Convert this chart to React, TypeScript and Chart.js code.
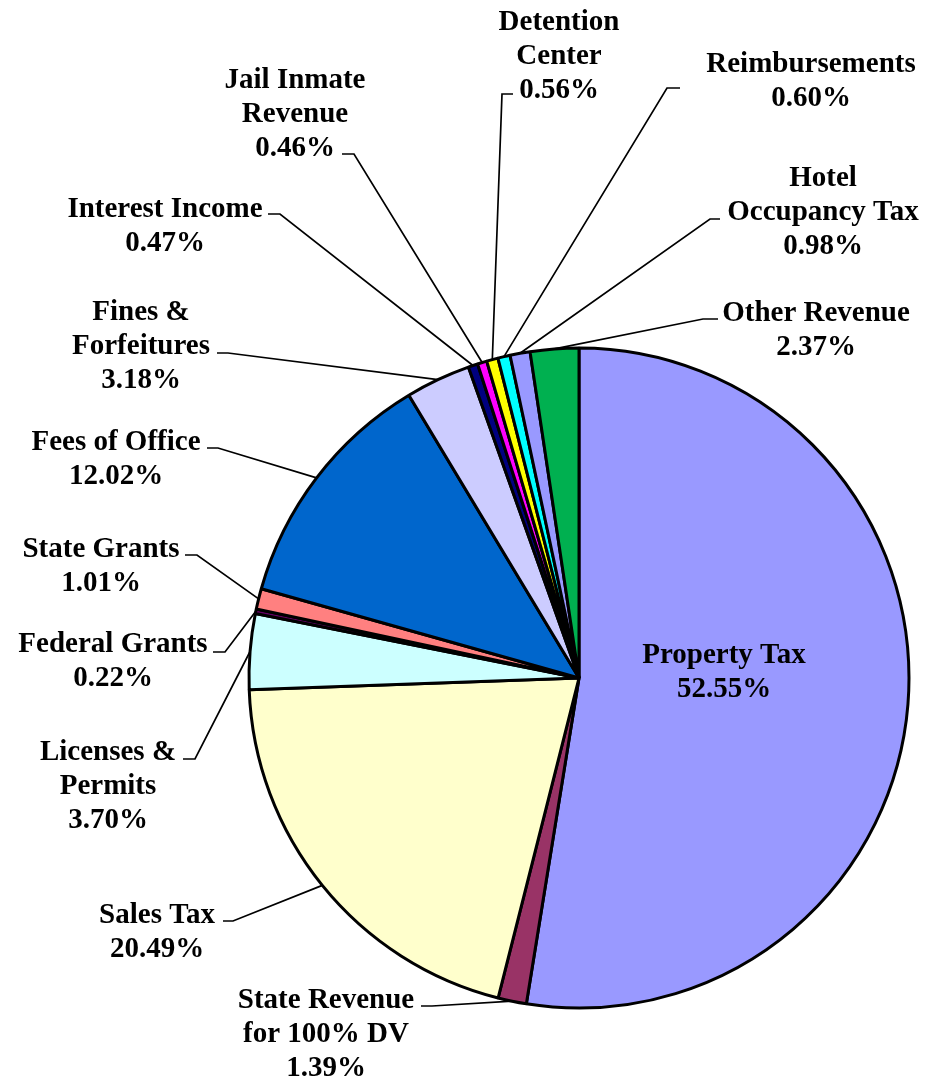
import React, { useEffect, useRef } from "react";
import { Chart, registerables } from "chart.js";

Chart.register(...registerables);

// ---- Data ----
const categories: string[] = [
  "Property Tax",
  "State Revenue\nfor 100% DV",
  "Sales Tax",
  "Licenses &\nPermits",
  "Federal Grants",
  "State Grants",
  "Fees of Office",
  "Fines &\nForfeitures",
  "Interest Income",
  "Jail Inmate\nRevenue",
  "Detention\nCenter",
  "Reimbursements",
  "Hotel\nOccupancy Tax",
  "Other Revenue",
];

const percentages: number[] = [
  52.55, 1.39, 20.49, 3.7, 0.22, 1.01, 12.02, 3.18, 0.47, 0.46, 0.56, 0.6, 0.98, 2.37,
];

const sliceColors: string[] = [
  "#9999FF",
  "#993366",
  "#FFFFCC",
  "#CCFFFF",
  "#660066",
  "#FF8080",
  "#0066CC",
  "#CCCCFF",
  "#000080",
  "#FF00FF",
  "#FFFF00",
  "#00FFFF",
  "#9999FF",
  "#00B050",
];

// ---- Label layout (text center x, first line middle y, leader horizontal segment) ----
type LabelLayout = { cx: number; y: number; leader: [number, number, number] | null };
const labelLayout: LabelLayout[] = [
  { cx: 724, y: 656, leader: null },
  { cx: 326, y: 1001, leader: [421, 432, 1006] },
  { cx: 157, y: 916, leader: [223, 233, 921] },
  { cx: 108, y: 753, leader: [183, 195, 759] },
  { cx: 113, y: 645, leader: [213, 225, 652] },
  { cx: 101, y: 550, leader: [185, 197, 555] },
  { cx: 116, y: 443, leader: [207, 218, 448] },
  { cx: 141, y: 313, leader: [217, 228, 353] },
  { cx: 165, y: 210, leader: [268, 280, 214] },
  { cx: 295, y: 81, leader: [342, 354, 154] },
  { cx: 559, y: 23, leader: [513, 502, 94] },
  { cx: 811, y: 65, leader: [680, 667, 88] },
  { cx: 823, y: 179, leader: [720, 710, 219] },
  { cx: 816, y: 314, leader: [718, 703, 319] },
];

const FONT = "bold 29px 'Liberation Serif', 'Times New Roman', serif";
const LINE_H = 33.7;

const labelPlugin = {
  id: "pieLabels",
  afterDatasetsDraw(chart: any) {
    const ctx = chart.ctx as CanvasRenderingContext2D;
    const meta = chart.getDatasetMeta(0);
    ctx.save();
    meta.data.forEach((arc: any, i: number) => {
      const p = arc.getProps(["x", "y", "startAngle", "endAngle", "outerRadius"], true);
      const mid = (p.startAngle + p.endAngle) / 2;
      const px = p.x + Math.cos(mid) * p.outerRadius;
      const py = p.y + Math.sin(mid) * p.outerRadius;
      const lay = labelLayout[i];
      if (lay.leader) {
        const [x1, x2, hy] = lay.leader;
        ctx.beginPath();
        ctx.strokeStyle = "#000";
        ctx.lineWidth = 1.7;
        ctx.moveTo(x1, hy);
        ctx.lineTo(x2, hy);
        ctx.lineTo(px, py);
        ctx.stroke();
      }
      const lines = categories[i].split("\n").concat([percentages[i].toFixed(2) + "%"]);
      ctx.font = FONT;
      ctx.fillStyle = "#000";
      ctx.textAlign = "center";
      ctx.textBaseline = "middle";
      lines.forEach((t, k) => {
        ctx.fillText(t, lay.cx, lay.y + k * LINE_H);
      });
    });
    ctx.restore();
  },
};

export default function App() {
  const canvasRef = useRef<HTMLCanvasElement | null>(null);
  useEffect(() => {
    const canvas = canvasRef.current;
    if (!canvas) return;
    const chart = new Chart(canvas, {
      type: "pie",
      data: {
        labels: categories,
        datasets: [
          {
            data: percentages,
            backgroundColor: sliceColors,
            borderColor: "#000",
            borderWidth: 3,
            hoverOffset: 0,
          },
        ],
      },
      options: {
        responsive: false,
        animation: false,
        events: [],
        radius: 330,
        layout: { padding: { left: 230, right: 8, top: 290, bottom: 11 } },
        plugins: {
          legend: { display: false },
          tooltip: { enabled: false },
        },
      } as any,
      plugins: [labelPlugin],
    });
    return () => chart.destroy();
  }, []);
  return (
    <div style={{ position: "absolute", left: 0, top: 0, width: 936, height: 1077, background: "#fff" }}>
      <canvas ref={canvasRef} width={936} height={1077} style={{ display: "block" }} />
    </div>
  );
}
